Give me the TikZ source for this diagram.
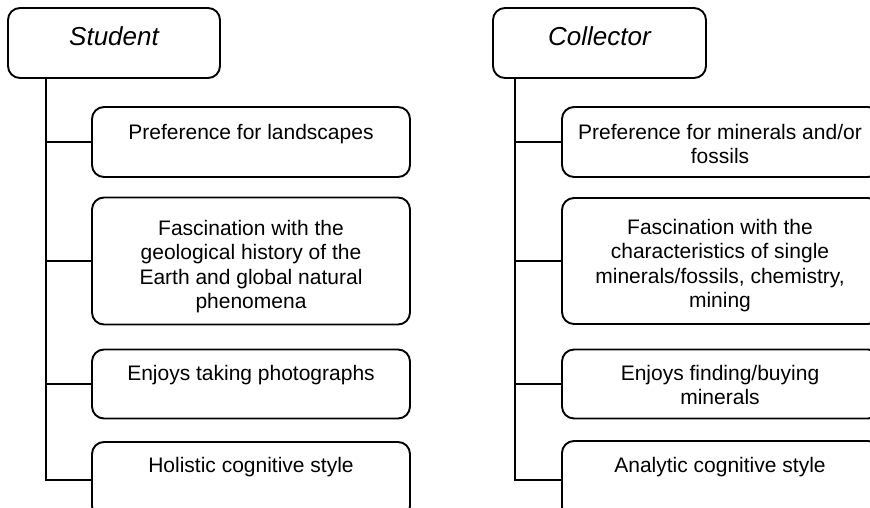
\documentclass[tikz,border=0pt]{standalone}
\usepackage{fontspec}
\setmainfont{Liberation Sans}
\usetikzlibrary{calc}
\tikzset{
  boxst/.style={draw, line width=1.9pt, rounded corners=12pt, inner sep=0pt, minimum width=318pt},
  titlebox/.style={boxst, minimum width=212pt, minimum height=70pt},
  conn/.style={line width=1.9pt},
  txt/.style={inner sep=0pt, anchor=north, align=center, font=\fontsize{21}{24.2}\selectfont},
  ttl/.style={inner sep=0pt, anchor=base, font=\fontsize{26}{30}\selectfont\itshape}
}
\begin{document}
\begin{tikzpicture}[x=1pt,y=-1pt]
\useasboundingbox (0,0) rectangle (870,508);
\clip (0,0) rectangle (870,508);
% left column
\node[titlebox] (S) at (114,43) {};
\node[ttl] (St) at (114,46) {Student};
\node[boxst, minimum height=70pt] (L1) at (251,142) {};
\node[boxst, minimum height=127pt] (L2) at (251,261) {};
\node[boxst, minimum height=69pt] (L3) at (251,384) {};
\node[boxst, minimum height=76pt] (L4) at (251,480) {};
\node[txt] (L1t) at ($(L1.north)+(0,17.7)$) {Preference for landscapes};
\node[txt] (L2t) at ($(L2.north)+(0,23.7)$) {Fascination with the\\geological history of the\\Earth and global natural\\phenomena};
\node[txt] (L3t) at ($(L3.north)+(0,16.7)$) {Enjoys taking photographs};
\node[txt] (L4t) at ($(L4.north)+(0,15.7)$) {Holistic cognitive style};
\coordinate (sl) at (46,78);
\draw[conn] (sl) |- (L4.west);
\draw[conn] (sl |- L1.west) -- (L1.west);
\draw[conn] (sl |- L2.west) -- (L2.west);
\draw[conn] (sl |- L3.west) -- (L3.west);
% right column
\node[titlebox, minimum width=213pt] (C) at (599.5,43) {};
\node[ttl] (Ct) at (599.5,46) {Collector};
\node[boxst, minimum height=70pt] (R1) at (721,142) {};
\node[boxst, minimum height=126pt] (R2) at (721,261) {};
\node[boxst, minimum height=69pt] (R3) at (721,384) {};
\node[boxst, minimum height=78pt] (R4) at (721,480) {};
\node[txt] (R1t) at ($(R1.north)+(-1,17.7)$) {Preference for minerals and/or\\fossils};
\node[txt] (R2t) at ($(R2.north)+(-1,22.2)$) {Fascination with the\\characteristics of single\\minerals/fossils, chemistry,\\mining};
\node[txt] (R3t) at ($(R3.north)+(-1,16.7)$) {Enjoys finding/buying\\minerals};
\node[txt] (R4t) at ($(R4.north)+(-1,16.7)$) {Analytic cognitive style};
\coordinate (sr) at (515,78);
\draw[conn] (sr) |- (R4.west);
\draw[conn] (sr |- R1.west) -- (R1.west);
\draw[conn] (sr |- R2.west) -- (R2.west);
\draw[conn] (sr |- R3.west) -- (R3.west);
\end{tikzpicture}
\end{document}
